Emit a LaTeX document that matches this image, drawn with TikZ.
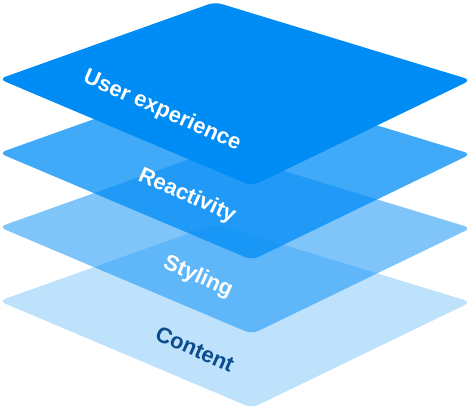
\documentclass[tikz,border=0pt]{standalone}
\usepackage{fontspec}
\setmainfont{Liberation Sans}
\usepackage{tikz}
\usetikzlibrary{positioning,calc}
\definecolor{stackblue}{RGB}{0, 140, 245}
\definecolor{stackdark}{RGB}{13, 76, 140}

\begin{document}
\begin{tikzpicture}[x=1pt, y=-1pt,
		% Layer styles
		layer/.style={fill=stackblue, fill opacity=#1, rounded corners=7pt},
		label/.style={text=white, font=\fontsize{22}{24}\selectfont\bfseries, rotate=-24, inner sep=0pt},
		darklabel/.style={label, text=stackdark}
	]

	\useasboundingbox (0,0) rectangle (470,411);

	% Content layer
	\fill[layer=0.25] (215,224) -- (471,302) -- (252,408) -- (-1,301) -- cycle;
	% Styling layer
	\fill[layer=0.5] (215,150) -- (471,228) -- (252,334) -- (-1,227) -- cycle;
	% Reactivity layer
	\fill[layer=0.75] (215,76) -- (471,154) -- (252,260) -- (-1,153) -- cycle;
	% User experience layer
	\fill[layer=1] (215,2) -- (471,80) -- (252,186) -- (-1,79) -- cycle;

	% Labels
	\node[label] (ux) at (162,111) {User experience};
	\node[label] (reactivity) at (187,196) {Reactivity};
	\node[label] (styling) at (198,277) {Styling};
	\node[darklabel] (content) at (195,349) {Content};

\end{tikzpicture}
\end{document}
